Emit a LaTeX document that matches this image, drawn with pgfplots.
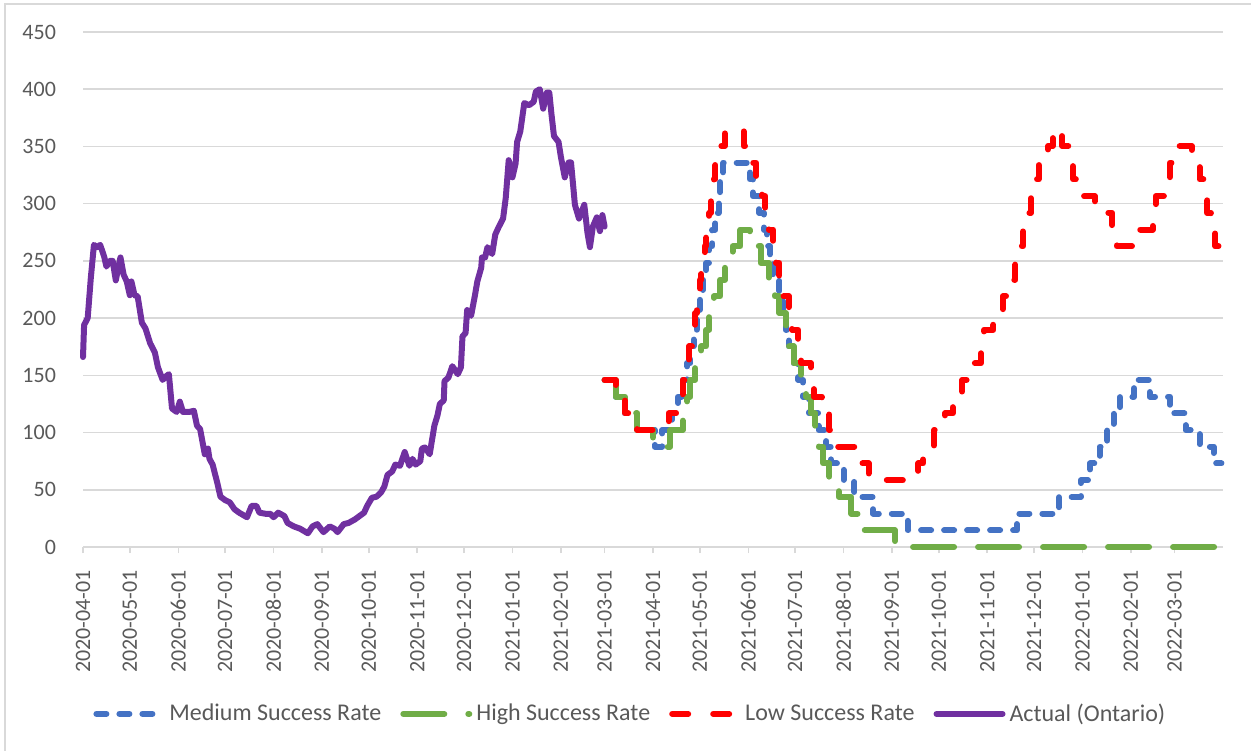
\documentclass[border=0pt]{standalone}
\usepackage{fontspec}
\setmainfont{Carlito}
\usepackage{pgfplots}
\pgfplotsset{compat=1.18}

\definecolor{gridgray}{HTML}{D9D9D9}
\definecolor{txtgray}{HTML}{595959}
\definecolor{medblue}{HTML}{4472C4}
\definecolor{higreen}{HTML}{70AD47}
\definecolor{lowred}{HTML}{FF0000}
\definecolor{actpurple}{HTML}{7030A0}

\begin{document}
\begin{tikzpicture}
\useasboundingbox (0pt,0pt) rectangle (625.5pt,375pt);
% chart area frame
\draw[gridgray, line width=0.75pt] (2.5pt,-10pt) -- (2.5pt,373pt) -- (640pt,373pt);
\begin{axis}[
  at={(41.5pt,101.5pt)}, anchor=south west,
  scale only axis, width=570pt, height=257.5pt,
  xmin=0, xmax=730, ymin=0, ymax=450,
  clip=false,
  axis x line*=bottom, axis y line*=left,
  x axis line style={gridgray, line width=0.75pt},
  y axis line style={draw=none},
  ytick={0,50,...,450},
  ytick style={draw=none},
  xtick={0,30,61,91,122,153,183,214,244,275,306,334,365,395,426,456,487,518,548,579,609,640,671,699},
  xticklabels={2020-04-01,2020-05-01,2020-06-01,2020-07-01,2020-08-01,2020-09-01,2020-10-01,2020-11-01,2020-12-01,2021-01-01,2021-02-01,2021-03-01,2021-04-01,2021-05-01,2021-06-01,2021-07-01,2021-08-01,2021-09-01,2021-10-01,2021-11-01,2021-12-01,2022-01-01,2022-02-01,2022-03-01},
  xtick style={gridgray, line width=0.75pt},
  tick align=outside, major tick length=3pt,
  ymajorgrids, major grid style={gridgray, line width=0.75pt},
  /pgf/number format/assume math mode=true,
  every tick label/.append style={font=\fontsize{11}{13}\selectfont, text=txtgray},
  xticklabel style={rotate=90, anchor=east},
  xticklabel shift=5pt,
  yticklabel style={xshift=-7pt},
  legend columns=4,
  legend style={at={(0.481,-0.324)}, anchor=center, draw=none, fill=none,
    font=\fontsize{12}{14}\selectfont, text=txtgray,
    /tikz/every even column/.append style={column sep=7.5pt}},
  legend cell align=left,
  legend image code/.code={\draw[#1] (0pt,0pt) -- (33pt,0pt);},
  every axis plot/.append style={line width=3pt, line cap=round, line join=round, mark=none},
]

% Medium success rate projection
\addplot[medblue, const plot, dash pattern=on 5pt off 6.5pt] coordinates {
(334,146.0) (341,131.4) (347,116.8) (355,102.2) (366,87.6) (371,102.2)
(377,116.8) (381,131.4) (384,146.0) (387,160.6) (389,175.2) (391,189.8)
(393,204.4) (395,219.0) (397,233.6) (399,248.2) (401,262.8) (403,277.4)
(405,292.0) (407,306.6) (408,321.2) (410,335.8) (427,321.2) (429,306.6)
(433,292.0) (436,277.4) (438,262.8) (440,248.2) (442,233.6) (446,219.0)
(448,204.4) (450,189.8) (452,175.2) (455,160.6) (458,146.0) (461,131.4)
(465,116.8) (471,102.2) (476,87.6) (479,73.0) (487,58.4) (494,43.8)
(506,29.2) (528,14.6) (598,29.2) (625,43.8) (639,58.4) (645,73.0)
(651,87.6) (656,102.2) (660,116.8) (664,131.4) (673,146.0) (683,131.4)
(696,116.8) (706,102.2) (715,87.6) (724,73.0) (729,73.0)
};
\addlegendentry{Medium Success Rate}

% High success rate projection
\addplot[higreen, const plot, dash pattern=on 20.5pt off 12pt] coordinates {
(334,146.0) (341,131.4) (347,116.8) (355,102.2) (365,87.6) (376,102.2)
(384,116.8) (387,131.4) (389,146.0) (392,160.6) (396,175.2) (399,189.8)
(401,204.4) (404,219.0) (408,233.6) (411,248.2) (416,262.8) (421,277.4)
(427,262.8) (434,248.2) (439,233.6) (443,219.0) (446,204.4) (450,189.8)
(452,175.2) (455,160.6) (460,146.0) (463,131.4) (466,116.8) (469,102.2)
(471,87.6) (474,73.0) (478,58.4) (484,43.8) (492,29.2) (499,14.6)
(520,0) (728,0) (729,5)
};
\addlegendentry{High Success Rate}

% Low success rate projection
\addplot[lowred, const plot, dash pattern=on 8pt off 12.5pt] coordinates {
(334,146.0) (341,131.4) (347,116.8) (355,102.2) (375,116.8) (380,131.4)
(384,146.0) (386,160.6) (388,175.2) (390,189.8) (392,204.4) (393,219.0)
(395,233.6) (396,248.2) (398,262.8) (399,277.4) (401,292.0) (402,306.6)
(404,321.2) (405,335.8) (408,350.4) (411,365.0) (423,350.4) (429,335.8)
(431,321.2) (435,306.6) (437,292.0) (439,277.4) (442,262.8) (444,248.2)
(446,233.6) (448,219.0) (452,204.4) (454,189.8) (458,175.2) (460,160.6)
(466,146.0) (468,131.4) (473,116.8) (478,102.2) (483,87.6) (494,73.0)
(503,58.4) (535,73.0) (538,87.6) (545,102.2) (552,116.8) (557,131.4)
(563,146.0) (567,160.6) (575,175.2) (577,189.8) (583,204.4) (589,219.0)
(592,233.6) (597,248.2) (598,262.8) (602,277.4) (605,292.0) (607,306.6)
(610,321.2) (612,335.8) (618,350.4) (621,365.0) (627,350.4) (631,335.8)
(634,321.2) (640,306.6) (648,292.0) (659,277.4) (662,262.8) (672,277.4)
(685,292.0) (687,306.6) (693,321.2) (696,335.8) (699,350.4) (710,335.8)
(715,321.2) (718,306.6) (720,292.0) (722,277.4) (725,262.8) (728,248.2)
(729,248.2)
};
\addlegendentry{Low Success Rate}

% Actual hospital occupancy, Ontario
\addplot[actpurple] coordinates {
(0,166) (0.7,194) (3,200) (5,235) (7,264) (9,262) (11,264) (12.5,258)
(13.7,253) (15,245) (17,250) (19,250) (21,233) (23,247) (24,253) (26,238)
(28,232) (30,220) (31,232) (33,220) (35,219) (37.7,196) (40,191) (43,178)
(46,170) (48,157) (51,146) (53,149) (55,151) (57,121) (60,118) (62,127)
(64,118) (68,118) (71,119) (73,106) (75,103) (78,81) (80,86) (81,77)
(83,72) (86,56) (88,44) (91,41) (94,39) (97,33) (100,30) (105,26)
(108,36) (111,36) (113,30) (117,29) (120,29) (122,26) (125,30) (129,27)
(131,21) (135,18) (139,16) (144,12) (147,18) (150,20) (154,13) (158,18)
(161,16) (163,13) (167,20) (170,21) (174,24) (177,27) (180,30) (182,36)
(185,43) (188,44) (191,48) (193,53) (195,63) (198,66) (200,72) (203,71)
(206,83) (209,71) (211,77) (213,72) (216,75) (217,86) (219,87) (222,81)
(225,106) (227,115) (228.5,125) (231,128) (231.5,145) (234,148) (236.5,158)
(240,151) (242,157) (243,184) (245,187) (246,207) (248.5,202) (251,220)
(252.5,232) (255,244) (255.5,253) (257.5,253) (259,262) (262,256) (264,273)
(266,279) (269,287) (270.7,305) (272.6,338) (275,323) (277,335) (278,354)
(280,363) (282.6,388) (285.6,386) (288.6,389) (290,398) (292.5,400)
(294.7,383) (297,397) (298.6,397) (300,378) (301.6,359) (304.5,354)
(306,341) (308.5,323) (311,336) (312.5,336) (314,314) (315,299) (317.6,287)
(319,292) (321,299) (323,275) (324.6,262) (326.5,280) (329,288) (331,276)
(332.6,290) (334,280)
};
\addlegendentry{Actual (Ontario)}

\end{axis}
\end{tikzpicture}
\end{document}
